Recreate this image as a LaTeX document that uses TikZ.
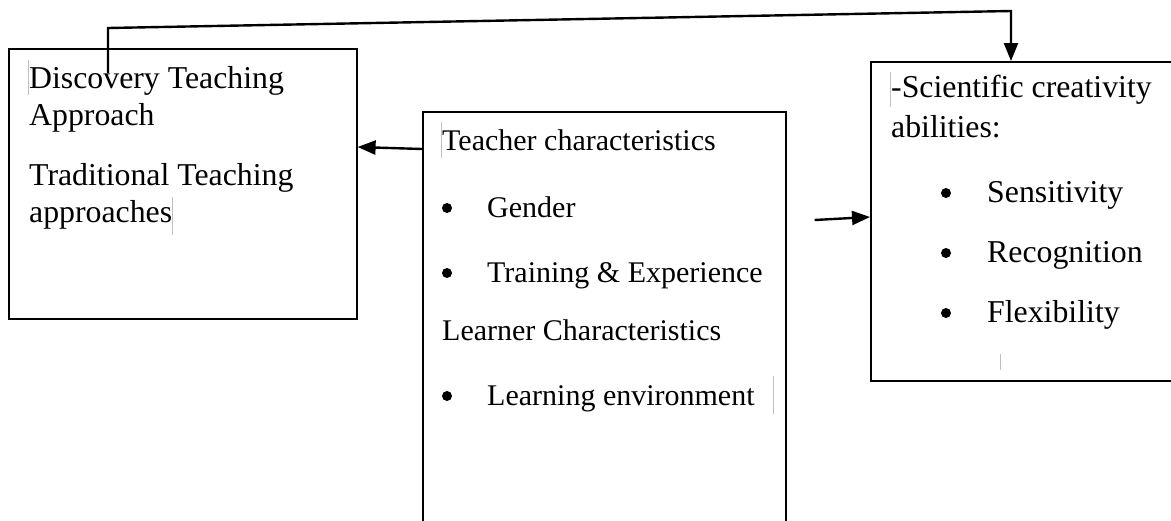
\documentclass[tikz,border=0pt]{standalone}
\usepackage{fontspec}
\setmainfont{Liberation Serif}
\usetikzlibrary{arrows.meta,calc}
\begin{document}
\begin{tikzpicture}[x=1pt,y=-1pt,
  box/.style={draw=black,line width=1.6pt,anchor=north west,inner sep=0pt},
  txt/.style={anchor=base west,inner sep=0pt,font=\fontsize{31.8}{37}\selectfont},
  mtxt/.style={anchor=base west,inner sep=0pt,font=\fontsize{30}{36}\selectfont},
  bul/.style={circle,fill=black,inner sep=0pt,minimum size=10pt},
  arr/.style={line width=2.4pt,-{Triangle[length=18pt,width=14pt]}},
  cur/.style={draw=black!25,line width=0.6pt}]
\useasboundingbox (0,0) rectangle (1171,520);
% boxes
\node[box,minimum width=348pt,minimum height=270pt] (left) at (8,48) {};
\node[box,minimum width=363pt,minimum height=440pt] (mid) at (422,111) {};
\node[box,minimum width=320pt,minimum height=319pt] (right) at (870,61) {};
% left texts
\node[txt] (l1) at (29,88) {Discovery Teaching};
\node[txt] (l2) at (29,125) {Approach};
\node[txt] (l3) at (29,185) {Traditional Teaching};
\node[txt] (l4) at (29,222) {approaches};
% middle texts
\node[mtxt] (m1) at (442,150) {Teacher characteristics};
\node[bul] (b1) at (447,208) {};
\node[mtxt] (m2) at (487,217) {Gender};
\node[bul] (b2) at (447,273) {};
\node[mtxt] (m3) at (487,282) {Training \& Experience};
\node[mtxt] (m4) at (442,340) {Learner Characteristics};
\node[bul] (b3) at (447,396) {};
\node[mtxt] (m5) at (487,405) {Learning environment};
% right texts
\node[txt] (r1) at (891,97) {-Scientific creativity};
\node[txt] (r2) at (891,137) {abilities:};
\node[bul] (b4) at (946,193) {};
\node[txt] (r3) at (987,202) {Sensitivity};
\node[bul] (b5) at (946,253) {};
\node[txt] (r4) at (987,262) {Recognition};
\node[bul] (b6) at (946,313) {};
\node[txt] (r5) at (987,322) {Flexibility};
% cursor marks
\draw[cur] (28,60) -- (28,95);
\draw[cur] (172,197) -- (172,235);
\draw[cur] (441,122) -- (441,158);
\draw[cur] (773,376) -- (773,414);
\draw[cur] (890,72) -- (890,107);
\draw[cur] (1000,354) -- (1000,370);
% connectors
\coordinate (ts) at (108,73);
\draw[arr] (ts) -- (108,28) -- (1011,11) -- ($(right.north west)+(141,0)$);
\draw[arr] ($(mid.north west)+(0,38)$) -- ($(left.north east)+(0,99)$);
\draw[arr] ($(mid.north east)+(28,109)$) -- ($(right.north west)+(0,156)$);
\end{tikzpicture}
\end{document}
